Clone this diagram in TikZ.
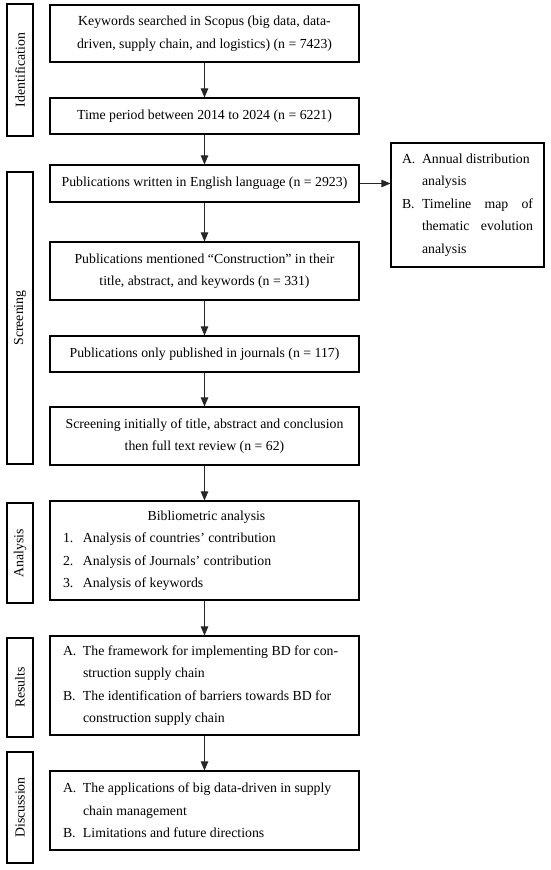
\documentclass[tikz,border=0pt]{standalone}
\usepackage{fontspec}
\setmainfont{Liberation Serif}
\usetikzlibrary{arrows.meta}
\newcommand\lbl[1]{\makebox[20pt][l]{#1}}
\newcommand\ind{\hspace*{20pt}}
\newcommand\nsp{\spaceskip=.25em\xspaceskip=.25em\relax}
\begin{document}
\begin{tikzpicture}[x=1pt,y=-1pt,
  box/.style={draw=black, line width=1.1pt, inner sep=0pt, minimum width=309pt,
    font=\fontsize{13.8}{22.5}\selectfont},
  cbox/.style={box, text width=305pt, align=center},
  lbox/.style={box, text width=283pt, align=left},
  side/.style={draw=black, line width=1.1pt, inner sep=0pt, rotate=90,
    minimum height=26pt, font=\fontsize{13.8}{16}\selectfont},
  arr/.style={draw=black!85, line width=0.9pt, -{Triangle[length=9pt,width=7.5pt]}}
]
\useasboundingbox (0,0) rectangle (550,870);

% side labels
\node[side, minimum width=132pt] (sid) at (20,70) {Identification};
\node[side, minimum width=292pt] (sscr) at (20,318) {Screening};
\node[side, minimum width=100pt] (sana) at (20,553) {Analysis};
\node[side, minimum width=99pt] (sres) at (20,687.5) {Results};
\node[side, minimum width=111pt] (sdis) at (20,807.5) {Discussion};

% main boxes
\node[cbox, minimum height=57pt] (b1) at (204.5,33.5)
  {\nsp Keywords searched in Scopus (big data, data-\\driven, supply chain, and logistics) (n = 7423)};
\node[cbox, minimum height=36pt] (b2) at (204.5,116)
  {\nsp Time period between 2014 to 2024 (n = 6221)};
\node[cbox, minimum height=37pt] (b3) at (204.5,183.5)
  {\nsp Publications written in English language (n = 2923)};
\node[cbox, minimum height=58pt] (b4) at (204.5,271)
  {\nsp Publications mentioned “Construction” in their\\title, abstract, and keywords (n = 331)};
\node[cbox, minimum height=36pt] (b5) at (204.5,354)
  {\nsp Publications only published in journals (n = 117)};
\node[cbox, minimum height=58pt] (b6) at (204.5,436)
  {\nsp Screening initially of title, abstract and conclusion\\then full text review (n = 62)};
\node[lbox, minimum height=99pt] (b7) at (204.5,550.5)
  {\nsp\makebox[287pt]{Bibliometric analysis}\\
   \lbl{1.}Analysis of countries’ contribution\\
   \lbl{2.}Analysis of Journals’ contribution\\
   \lbl{3.}Analysis of keywords};
\node[lbox, minimum height=99pt] (b8) at (204.5,685.5)
  {\nsp\lbl{A.}The framework for implementing BD for con-\\
   \ind struction supply chain\\
   \lbl{B.}The identification of barriers towards BD for\\
   \ind construction supply chain};
\node[lbox, minimum height=79pt] (b9) at (204.5,810.5)
  {\nsp\lbl{A.}The applications of big data-driven in supply\\
   \ind chain management\\
   \lbl{B.}Limitations and future directions};

% right box
\node[box, minimum width=153pt, minimum height=124pt, text width=131pt, align=left] (r) at (467.5,205)
  {\nsp\lbl{A.}Annual distribution\\
   \ind analysis\\
   \lbl{B.}\makebox[111pt][l]{Timeline\hfill map\hfill of}\\
   \ind\makebox[111pt][l]{thematic\hfill evolution}\\
   \ind analysis};

% arrows
\draw[arr] (b1.south) -- (b2.north);
\draw[arr] (b2.south) -- (b3.north);
\draw[arr] (b3.south) -- (b4.north);
\draw[arr] (b4.south) -- (b5.north);
\draw[arr] (b5.south) -- (b6.north);
\draw[arr] (b6.south) -- (b7.north);
\draw[arr] (b7.south) -- (b8.north);
\draw[arr] (b8.south) -- (b9.north);
\draw[arr] (b3.east) -- (b3.east -| r.west);
\end{tikzpicture}
\end{document}
